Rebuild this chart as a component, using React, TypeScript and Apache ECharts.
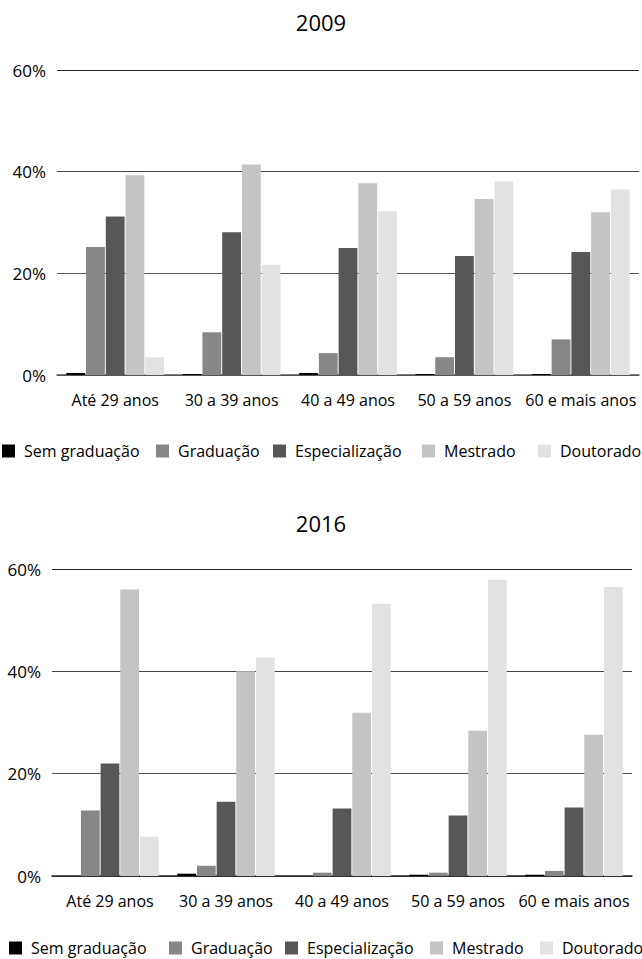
import React, { useEffect, useRef } from "react";
import * as echarts from "echarts";

const categories = ["Até 29 anos", "30 a 39 anos", "40 a 49 anos", "50 a 59 anos", "60 e mais anos"];
const seriesNames = ["Sem graduação", "Graduação", "Especialização", "Mestrado", "Doutorado"];
const colors = ["#000000", "#878787", "#575757", "#c4c4c4", "#e2e2e2"];

// 2009 values (%)
const sem2009 = [0.4, 0.2, 0.4, 0.2, 0.2];
const grad2009 = [25.2, 8.4, 4.3, 3.5, 7.0];
const esp2009 = [31.2, 28.1, 25.0, 23.4, 24.2];
const mest2009 = [39.3, 41.4, 37.7, 34.6, 32.0];
const dout2009 = [3.5, 21.7, 32.2, 38.1, 36.5];

// 2016 values (%)
const sem2016 = [0, 0.45, 0, 0.25, 0.25];
const grad2016 = [12.8, 2.0, 0.65, 0.65, 1.0];
const esp2016 = [22.0, 14.5, 13.2, 11.8, 13.4];
const mest2016 = [56.0, 40.0, 31.9, 28.4, 27.6];
const dout2016 = [7.7, 42.7, 53.2, 57.9, 56.5];

const yTicks = [0, 20, 40, 60];

const font = "'Open Sans', 'Noto Sans', sans-serif";

export default function App() {
  const ref = useRef<HTMLDivElement>(null);
  useEffect(() => {
    if (!ref.current) return;
    const chart = echarts.init(ref.current, null, { renderer: "svg" });
    const data2009 = [sem2009, grad2009, esp2009, mest2009, dout2009];
    const data2016 = [sem2016, grad2016, esp2016, mest2016, dout2016];

    const series: any[] = [];
    [data2009, data2016].forEach((set, gi) => {
      set.forEach((vals, i) => {
        series.push({
          type: "bar",
          name: seriesNames[i],
          xAxisIndex: gi,
          yAxisIndex: gi,
          data: vals,
          barGap: "5%",
          barCategoryGap: "16%",
          itemStyle: { color: colors[i] },
          emphasis: { disabled: true },
        });
      });
    });

    const legendTop = [2, 156, 273, 422, 538];
    const legendBottom = [9, 169, 285, 430, 540];
    const legends: any[] = [];
    [
      { lefts: legendTop, top: 443 },
      { lefts: legendBottom, top: 940 },
    ].forEach((g) => {
      g.lefts.forEach((l, i) => {
        legends.push({
          left: l,
          top: g.top,
          padding: 0,
          itemGap: 0,
          orient: "horizontal",
          icon: "rect",
          itemWidth: 13,
          itemHeight: 13,
          data: [seriesNames[i]],
          selectedMode: false,
          textStyle: { fontSize: 16, color: "#000", fontFamily: font, padding: [0, 0, 0, 4] },
        });
      });
    });

    const mkX = (gi: number) => ({
      type: "category",
      gridIndex: gi,
      data: categories,
      axisTick: { show: false },
      axisLine: { show: true, lineStyle: { color: gi === 0 ? "#555" : "#222", width: 1.5 } },
      axisLabel: { fontSize: 16, color: "#000", fontFamily: font, margin: 17, interval: 0 },
    });
    const mkY = (gi: number) => ({
      type: "value",
      gridIndex: gi,
      min: yTicks[0],
      max: yTicks[yTicks.length - 1],
      interval: 20,
      axisLine: { show: false },
      axisTick: { show: false },
      axisLabel: { formatter: "{value}%", fontSize: 17, color: "#000", fontFamily: font, margin: 11 },
      splitLine: { show: true, lineStyle: { color: ["#555", "#555", "#444", "#222"], width: 1.2 } },
    });

    chart.setOption({
      animation: false,
      title: [
        { text: "2009", left: "center", top: 6, textStyle: { fontSize: 22, fontWeight: "normal", color: "#000", fontFamily: font } },
        { text: "2016", left: "center", top: 507, textStyle: { fontSize: 22, fontWeight: "normal", color: "#000", fontFamily: font } },
      ],
      legend: legends,
      grid: [
        { left: 57, right: 3, top: 70, bottom: 959 - 375 },
        { left: 52, right: 10, top: 569, bottom: 959 - 876 },
      ],
      xAxis: [mkX(0), mkX(1)],
      yAxis: [mkY(0), mkY(1)],
      series,
    });
    return () => chart.dispose();
  }, []);
  return <div ref={ref} style={{ position: "absolute", left: 0, top: 0, width: 642, height: 959 }} />;
}
